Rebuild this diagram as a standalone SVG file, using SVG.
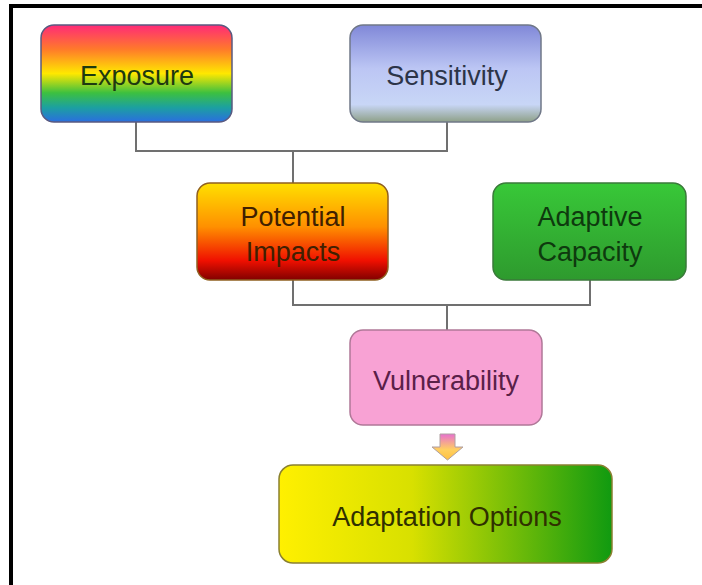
<svg xmlns="http://www.w3.org/2000/svg" width="702" height="585" viewBox="0 0 702 585">
<defs>
<linearGradient id="gExp" x1="0" y1="0" x2="0" y2="1">
<stop offset="0" stop-color="#ff2a78"/>
<stop offset="0.25" stop-color="#ff7a2a"/>
<stop offset="0.5" stop-color="#ffe800"/>
<stop offset="0.7" stop-color="#3cc040"/>
<stop offset="0.85" stop-color="#1ca0a0"/>
<stop offset="1" stop-color="#2a6ee0"/>
</linearGradient>
<linearGradient id="gSen" x1="0" y1="0" x2="0" y2="1">
<stop offset="0" stop-color="#8088d8"/>
<stop offset="0.45" stop-color="#bcc6f4"/>
<stop offset="0.82" stop-color="#c8d6f6"/>
<stop offset="1" stop-color="#8ea088"/>
</linearGradient>
<linearGradient id="gPot" x1="0" y1="0" x2="0" y2="1">
<stop offset="0" stop-color="#ffe000"/>
<stop offset="0.45" stop-color="#ff9000"/>
<stop offset="0.8" stop-color="#f01000"/>
<stop offset="1" stop-color="#800000"/>
</linearGradient>
<linearGradient id="gAda" x1="0" y1="0" x2="0" y2="1">
<stop offset="0" stop-color="#38c838"/>
<stop offset="1" stop-color="#2e9a2e"/>
</linearGradient>
<linearGradient id="gOpt" x1="0" y1="0" x2="1" y2="0">
<stop offset="0" stop-color="#fff000"/>
<stop offset="0.4" stop-color="#d8e000"/>
<stop offset="1" stop-color="#109a10"/>
</linearGradient>
<linearGradient id="gArr" x1="0" y1="0" x2="0" y2="1">
<stop offset="0" stop-color="#e870d0"/>
<stop offset="0.6" stop-color="#ffd060"/>
<stop offset="1" stop-color="#ffc040"/>
</linearGradient>
<style>
.box{stroke-width:1.5}
.t{font-family:"Liberation Sans",Arial,sans-serif;font-size:27px;text-anchor:middle}
.c{fill:none;stroke:#707070;stroke-width:2}
</style>
</defs>
<rect x="0" y="0" width="702" height="585" fill="#ffffff"/>
<path d="M11 585 V6 H702" fill="none" stroke="#000" stroke-width="4"/>
<g id="connectors">
<path class="c" d="M136 122 V151 H447 V122"/>
<path class="c" d="M293 151 V183"/>
<path class="c" d="M293 280 V305 H590 V280"/>
<path class="c" d="M447 305 V330"/>
</g>
<g id="exposure">
<rect class="box" x="41" y="25" width="191" height="97" rx="13" fill="url(#gExp)" stroke="#5a5a80"/>
<text class="t" x="137" y="85" fill="#1e3a10">Exposure</text>
</g>
<g id="sensitivity">
<rect class="box" x="350" y="25" width="191" height="97" rx="13" fill="url(#gSen)" stroke="#707888"/>
<text class="t" x="447" y="85" fill="#2c3448">Sensitivity</text>
</g>
<g id="potential-impacts">
<rect class="box" x="197" y="183" width="191" height="97" rx="13" fill="url(#gPot)" stroke="#906020"/>
<text class="t" x="293" y="226" fill="#402000">Potential</text>
<text class="t" x="293" y="261" fill="#402000">Impacts</text>
</g>
<g id="adaptive-capacity">
<rect class="box" x="493" y="183" width="193" height="97" rx="13" fill="url(#gAda)" stroke="#3a7a3a"/>
<text class="t" x="590" y="226" fill="#0e3a0e">Adaptive</text>
<text class="t" x="590" y="261" fill="#0e3a0e">Capacity</text>
</g>
<g id="vulnerability">
<rect class="box" x="350" y="330" width="192" height="95" rx="13" fill="#f8a2d4" stroke="#b07898"/>
<text class="t" x="446" y="390" fill="#5a2048">Vulnerability</text>
</g>
<g id="arrow">
<path d="M440 434 H455 V447 H463 L447.5 460 L432 447 H440 Z" fill="url(#gArr)" stroke="#b0a0a0" stroke-width="1"/>
</g>
<g id="adaptation-options">
<rect class="box" x="279" y="465" width="333" height="98" rx="14" fill="url(#gOpt)" stroke="#8a8030"/>
<text class="t" x="447" y="526" fill="#303000">Adaptation Options</text>
</g>
</svg>
